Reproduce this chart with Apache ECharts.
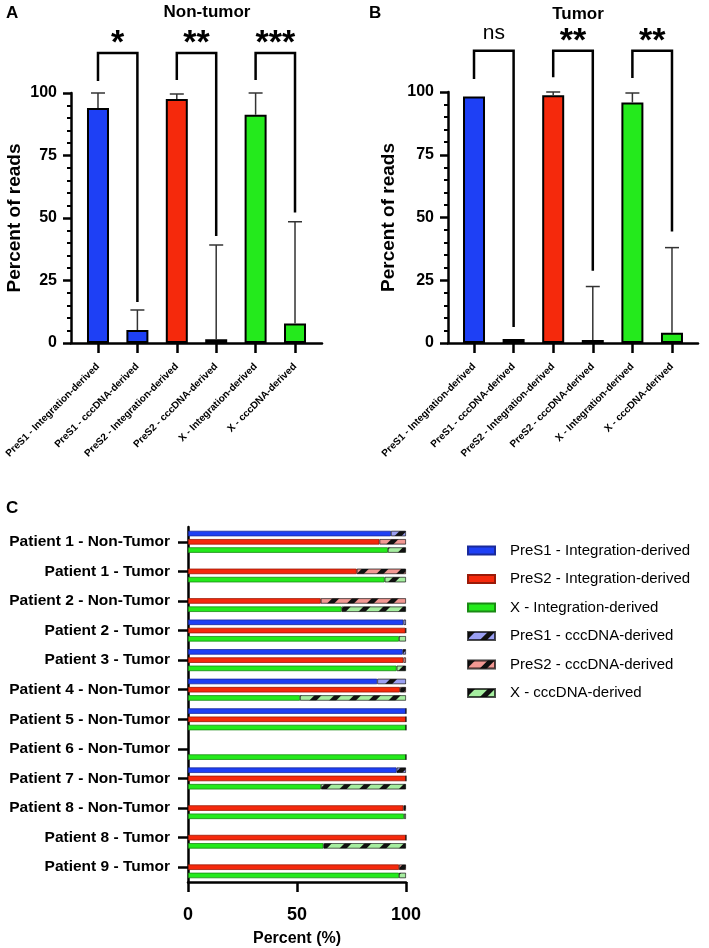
<!DOCTYPE html>
<html>
<head>
<meta charset="utf-8">
<script src="https://cdn.jsdelivr.net/npm/echarts@6/dist/echarts.min.js"></script>
<style>
  html, body { margin: 0; padding: 0; background: #fff; }
  #chart { width: 709px; height: 948px; }
</style>
</head>
<body>
<div id="chart"></div>
<script>
// ---- panel A / B data ----
const geneCats = ['PreS1 - Integration-derived', 'PreS1 - cccDNA-derived', 'PreS2 - Integration-derived',
    'PreS2 - cccDNA-derived', 'X - Integration-derived', 'X - cccDNA-derived'];
const nonTumorMean = [94, 5.2, 97.6, 1.5, 91.3, 7.8];
const nonTumorUpper = [100, 13.2, 99.6, 39.2, 100, 48.5];
const tumorMean = [98.2, 1.6, 98.7, 1.2, 95.8, 4.1];
const tumorUpper = [98.2, 1.6, 100, 22.5, 99.6, 38];

// brackets: [left cat, right cat, top, left leg end, right leg end]
const nonTumorBrackets = [[0, 1, 116, 104.8, 16.4], [2, 3, 116, 105.2, 42.8], [4, 5, 116, 105.2, 52.2]];
const nonTumorSig = ['*', '**', '***'];
const tumorBrackets = [[0, 1, 116.4, 105.2, 6.4], [2, 3, 116.4, 105.9, 28.8], [4, 5, 116.4, 105.6, 44.4]];
const tumorSig = ['ns', '**', '**'];

// ---- panel C data ----
const patients = ['Patient 1 - Non-Tumor', 'Patient 1 - Tumor', 'Patient 2 - Non-Tumor', 'Patient 2 - Tumor',
    'Patient 3 - Tumor', 'Patient 4 - Non-Tumor', 'Patient 5 - Non-Tumor', 'Patient 6 - Non-Tumor',
    'Patient 7 - Non-Tumor', 'Patient 8 - Non-Tumor', 'Patient 8 - Tumor', 'Patient 9 - Tumor'];
const preS1Int = [93.1, null, null, 98.8, 98.5, 86.8, 100, null, 95.7, null, null, null];
const preS1Ccc = [6.9, null, null, 1.2, 1.5, 13.2, 0, null, 4.3, null, null, null];
const preS2Int = [87.8, 77.4, 60.9, 99.8, 98.8, 97.2, 100, null, 100, 98.8, 100, 96.8];
const preS2Ccc = [12.2, 22.6, 39.1, 0.2, 1.2, 2.8, 0, null, 0, 1.2, 0, 3.2];
const xInt = [91.7, 90.2, 70.5, 96.8, 95.7, 51.4, 100, 100, 61, 99.1, 62.1, 96.8];
const xCcc = [8.3, 9.8, 29.5, 3.2, 4.3, 48.6, 0, 0, 39, 0.9, 37.9, 3.2];
const legendNames = ['PreS1 - Integration-derived', 'PreS2 - Integration-derived', 'X - Integration-derived',
    'PreS1 - cccDNA-derived', 'PreS2 - cccDNA-derived', 'X - cccDNA-derived'];

const FONT = "'Liberation Sans', Arial, sans-serif";
const solidColors = ['#1e40f5', '#f5290c', '#24ea1c'];
const lightColors = ['#9a9ff2', '#f29893', '#a6eea0'];
const darkBorders = ['#1a2a9a', '#9a1a08', '#1a8a14'];
const barColorOf = i => solidColors[Math.floor(i / 2)];

const stripes = {
    symbol: 'rect', symbolSize: 1, color: '#111',
    dashArrayX: [1, 0], dashArrayY: [5, 9], rotation: -Math.PI / 4
};

function barSeries(mean, idx) {
    return {
        type: 'bar', name: 'panel' + idx, xAxisIndex: idx, yAxisIndex: idx,
        barWidth: 22,
        data: mean.map((v, i) => [i, v]),
        itemStyle: {
            color: p => barColorOf(p.dataIndex),
            borderColor: '#000', borderWidth: 2
        },
        silent: true
    };
}

function errorSeries(mean, upper, idx) {
    return {
        type: 'custom', xAxisIndex: idx, yAxisIndex: idx, silent: true, z: 3,
        data: mean.map((v, i) => [i, v, upper[i]]),
        renderItem: function (params, api) {
            const x = api.value(0), top = api.value(1), up = api.value(2);
            if (up <= top) return null;
            const p0 = api.coord([x, top]);
            const p1 = api.coord([x, up]);
            const st = { stroke: '#333', lineWidth: 1.5 };
            return {
                type: 'group', children: [
                    { type: 'line', shape: { x1: p0[0], y1: p0[1], x2: p1[0], y2: p1[1] }, style: st },
                    { type: 'line', shape: { x1: p1[0] - 7, y1: p1[1], x2: p1[0] + 7, y2: p1[1] }, style: st }
                ]
            };
        }
    };
}

function bracketSeries(brackets, labels, idx) {
    return {
        type: 'custom', xAxisIndex: idx, yAxisIndex: idx, silent: true, clip: false, z: 4,
        data: brackets,
        renderItem: function (params, api) {
            const a = api.coord([api.value(0), api.value(3)]);
            const b = api.coord([api.value(0), api.value(2)]);
            const c = api.coord([api.value(1), api.value(2)]);
            const d = api.coord([api.value(1), api.value(4)]);
            const lab = labels[params.dataIndex];
            const isStar = lab.indexOf('*') >= 0;
            return {
                type: 'group', children: [
                    {
                        type: 'polyline', shape: { points: [a, b, c, d] },
                        style: { stroke: '#000', lineWidth: 2.5, fill: null }
                    },
                    {
                        type: 'text',
                        style: {
                            text: lab, x: (b[0] + c[0]) / 2, y: b[1] - (isStar ? 9 : 18),
                            align: 'center', verticalAlign: 'middle',
                            font: (isStar ? 'bold 34px ' : '21px ') + FONT, fill: '#000'
                        }
                    }
                ]
            };
        }
    };
}

function xAxisAB(idx, min, max) {
    return {
        type: 'value', gridIndex: idx, min: min, max: max,
        axisLine: { show: true, onZero: false, lineStyle: { color: '#000', width: 2.5 } },
        splitLine: { show: false },
        axisTick: { show: true, customValues: [0, 1, 2, 3, 4, 5], length: 10, lineStyle: { color: '#000', width: 2.5 } },
        axisLabel: {
            customValues: [0, 1, 2, 3, 4, 5], rotate: 45, margin: 22,
            formatter: v => geneCats[Math.round(v)],
            fontFamily: FONT, fontWeight: 'bold', fontSize: 10, color: '#000'
        }
    };
}

function yAxisAB(idx, gap) {
    return {
        type: 'value', gridIndex: idx, min: 0, max: 100, interval: 25,
        name: 'Percent of reads', nameLocation: 'middle', nameGap: gap, nameRotate: 90,
        nameTextStyle: { fontFamily: FONT, fontWeight: 'bold', fontSize: 19, color: '#000' },
        axisLine: { show: true, onZero: false, lineStyle: { color: '#000', width: 2.5 } },
        splitLine: { show: false },
        axisTick: { show: true, length: 8, lineStyle: { color: '#000', width: 2.5 } },
        minorTick: { show: true, splitNumber: 5, length: 4, lineStyle: { color: '#000', width: 2 } },
        axisLabel: { margin: 14, fontFamily: FONT, fontWeight: 'bold', fontSize: 16, color: '#000' }
    };
}

const cSeries = [];
const intData = [preS1Int, preS2Int, xInt];
const cccData = [preS1Ccc, preS2Ccc, xCcc];
const stacks = ['s1', 's2', 'sx'];
for (let i = 0; i < 3; i++) {
    cSeries.push({
        type: 'bar', name: legendNames[i], xAxisIndex: 2, yAxisIndex: 2, stack: stacks[i],
        barWidth: 5.5, barGap: '50%', data: intData[i], silent: true,
        itemStyle: { color: solidColors[i], borderColor: darkBorders[i], borderWidth: 0.8 }
    });
}
for (let i = 0; i < 3; i++) {
    cSeries.push({
        type: 'bar', name: legendNames[i + 3], xAxisIndex: 2, yAxisIndex: 2, stack: stacks[i],
        barWidth: 5.5, barGap: '50%', data: cccData[i], silent: true,
        itemStyle: { color: lightColors[i], borderColor: 'rgba(0,0,0,0.45)', borderWidth: 0.8, decal: stripes }
    });
}

const chart = echarts.init(document.getElementById('chart'), null, { renderer: 'canvas' });
const titleStyle = (size, weight) => ({ fontFamily: FONT, fontWeight: weight || 'bold', fontSize: size, color: '#000' });
chart.setOption({
    backgroundColor: '#fff',
    animation: false,
    title: [
        { text: 'A', left: 1, top: 0, textStyle: titleStyle(17) },
        { text: 'Non-tumor', left: 202, top: -1, textAlign: 'center', textStyle: titleStyle(17) },
        { text: 'B', left: 364, top: 0, textStyle: titleStyle(17) },
        { text: 'Tumor', left: 573, top: 1, textAlign: 'center', textStyle: titleStyle(17) },
        { text: 'C', left: 1, top: 495, textStyle: titleStyle(17) }
    ],
    legend: {
        orient: 'vertical', left: 467, top: 543, itemWidth: 27, itemHeight: 8, itemGap: 13.5,
        padding: 0, selectedMode: false, icon: 'rect', data: legendNames,
        textStyle: { fontFamily: FONT, fontSize: 15, color: '#000', padding: [0, 0, 0, 10] }
    },
    grid: [
        { left: 71, top: 93, width: 251, height: 250 },
        { left: 448, top: 92, width: 250, height: 251 },
        { left: 188, top: 527, width: 218, height: 361 }
    ],
    xAxis: [
        xAxisAB(0, -0.685, 5.685),
        xAxisAB(1, -0.657, 5.657),
        {
            type: 'value', gridIndex: 2, min: 0, max: 100, interval: 50,
            name: 'Percent (%)', nameLocation: 'middle', nameGap: 49,
            nameTextStyle: { fontFamily: FONT, fontWeight: 'bold', fontSize: 16, color: '#000' },
            axisLine: { show: true, onZero: false, lineStyle: { color: '#000', width: 2.5 } },
            splitLine: { show: false },
            axisTick: { show: true, length: 10, lineStyle: { color: '#000', width: 2.5 } },
            axisLabel: { margin: 24, fontFamily: FONT, fontWeight: 'bold', fontSize: 18, color: '#000' }
        }
    ],
    yAxis: [
        yAxisAB(0, 47),
        yAxisAB(1, 50),
        {
            type: 'category', gridIndex: 2, inverse: true, data: patients,
            axisLine: { show: true, onZero: false, lineStyle: { color: '#000', width: 2.5 } },
            axisTick: { show: true, alignWithLabel: true, length: 10, lineStyle: { color: '#000', width: 2.5 } },
            axisLabel: { margin: 18, fontFamily: FONT, fontWeight: 'bold', fontSize: 15.5, color: '#000' }
        }
    ],
    series: [
        barSeries(nonTumorMean, 0),
        errorSeries(nonTumorMean, nonTumorUpper, 0),
        bracketSeries(nonTumorBrackets, nonTumorSig, 0),
        barSeries(tumorMean, 1),
        errorSeries(tumorMean, tumorUpper, 1),
        bracketSeries(tumorBrackets, tumorSig, 1)
    ].concat(cSeries)
});
</script>
</body>
</html>
